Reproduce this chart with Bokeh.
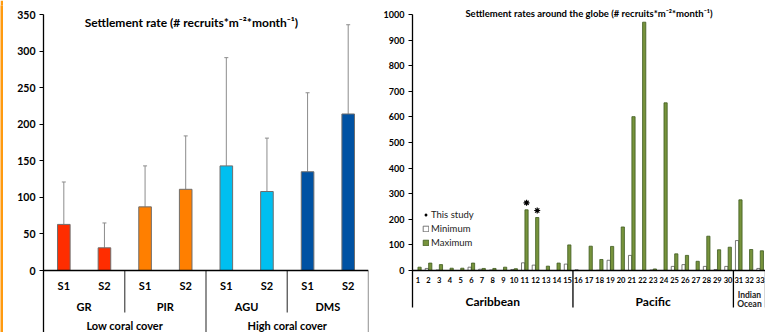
import numpy as np
from bokeh.plotting import figure
from bokeh.models import (Range1d, FixedTicker, ColumnDataSource, Whisker, TeeHead,
                          Label, Legend, LegendItem, Span)
from bokeh.layouts import row
from bokeh.transform import dodge
from bokeh.embed import file_html
from bokeh.resources import INLINE
from bokeh.core.properties import value

FONT = "Lato"

# ---------------- left panel data ----------------
sites = ["GR", "GR", "PIR", "PIR", "AGU", "AGU", "DMS", "DMS"]
surveys = ["S1", "S2", "S1", "S2", "S1", "S2", "S1", "S2"]
coverage = ["Low coral cover"] * 4 + ["High coral cover"] * 4
settlement_mean = [63, 31, 87, 111, 143, 108, 135, 214]
settlement_upper = [121, 65, 143, 184, 291, 181, 243, 336]
left_yticks = [0, 50, 100, 150, 200, 250, 300, 350]
site_colors = {"GR": "#FF2D00", "PIR": "#FF7F00", "AGU": "#00BFF0", "DMS": "#0052A3"}

# ---------------- right panel data ----------------
study_ids = list(range(1, 34))
minimum = [0, 8, 2, 0, 0, 13, 5, 2, 0, 4, 30, 21, 0, 0, 25,
           3, 0, 1, 40, 0, 59, 0, 2, 0, 16, 23, 0, 16, 4, 16,
           117, 0, 8]
maximum = [13, 29, 23, 9, 9, 29, 8, 8, 13, 7, 237, 207, 17, 29, 100,
           0, 95, 43, 94, 170, 601, 970, 6, 655, 65, 59, 36, 134, 81, 91,
           276, 82, 77]
regions = ["Caribbean"] * 15 + ["Pacific"] * 15 + ["Indian Ocean"] * 3
this_study = [11, 12]
right_yticks = [0, 100, 200, 300, 400, 500, 600, 700, 800, 900, 1000]


def style_yaxis(ay, ticks, size):
    ay.ticker = FixedTicker(ticks=ticks)
    ay.major_tick_out = 4
    ay.major_tick_in = 0
    ay.minor_tick_out = 0
    ay.minor_tick_in = 0
    ay.major_label_standoff = 4
    ay.major_label_text_font = FONT
    ay.major_label_text_font_style = "bold"
    ay.major_label_text_font_size = size
    ay.major_label_text_color = "black"
    ay.axis_line_color = "black"
    ay.axis_line_width = 1.3
    ay.major_tick_line_color = "black"


H = 332
TOP_PAD = 9   # pixels of frame above the highest tick

# =============== decorative strip at the far left ===============
strip = figure(width=3, height=H, output_backend="svg", toolbar_location=None, title=None,
               x_axis_location=None, y_axis_location=None, min_border=0,
               background_fill_color="#FF9A10", border_fill_color="#FF9A10")
strip.outline_line_color = None
strip.grid.visible = False

# =============== LEFT FIGURE ===============
L_YMAX = 350
L_UPP = 350 / 256.0          # data units per pixel
L_TOP = L_YMAX + TOP_PAD * L_UPP
L_YMIN = -62 * L_UPP

xl = np.arange(len(sites))
src_l = ColumnDataSource(dict(x=xl, mean=settlement_mean, upper=settlement_upper,
                              color=[site_colors[s] for s in sites], lab=surveys))

p1 = figure(width=377, height=H, output_backend="svg", toolbar_location=None, title=None,
            x_range=Range1d(-0.5, len(sites) - 0.5), y_range=Range1d(L_YMIN, L_TOP),
            min_border_left=40, min_border_right=12, min_border_top=5, min_border_bottom=0)
p1.xaxis.visible = False
p1.outline_line_color = None
p1.xgrid.visible = False
p1.ygrid.visible = False
style_yaxis(p1.yaxis[0], left_yticks, "10.5px")
p1.yaxis[0].bounds = (L_YMIN, L_YMAX)

p1.add_layout(Span(location=0, dimension="width", line_color="black", line_width=1.3))

p1.vbar(x="x", top="mean", width=0.31, fill_color="color", line_color="#6E6E6E",
        line_width=1, source=src_l)
p1.add_layout(Whisker(base="x", lower="mean", upper="upper", source=src_l,
                      line_color="#8C8C8C", line_width=1, lower_head=None,
                      upper_head=TeeHead(size=4, line_color="#8C8C8C", line_width=1)))

# S1 / S2 labels
p1.text(x="x", y=-15 * L_UPP, text="lab", source=src_l,
        text_align="center", text_baseline="middle", text_font=value(FONT),
        text_font_style="bold", text_font_size="11px", text_color="black")

# separators below axis
sep_x, sep_y = [], []
for i in range(len(sites)):
    last = i == len(sites) - 1
    if last or sites[i] != sites[i + 1]:
        sep_x.append(i + 0.5)
        long_line = last or coverage[i] != coverage[i + 1]
        sep_y.append(L_YMIN if long_line else -42 * L_UPP)
p1.segment(x0=sep_x, y0=[0] * len(sep_x), x1=sep_x, y1=sep_y,
           line_color="#555555", line_width=1.3)

site_names = list(dict.fromkeys(sites))
site_centers = [float(np.mean([x for x, s in zip(xl, sites) if s == n])) for n in site_names]
p1.text(x=site_centers, y=[-36 * L_UPP] * len(site_names), text=site_names,
        text_align="center", text_baseline="middle", text_font=value(FONT),
        text_font_style="bold", text_font_size="11px", text_color="black")

cov_names = list(dict.fromkeys(coverage))
cov_centers = [float(np.mean([x for x, c in zip(xl, coverage) if c == n])) for n in cov_names]
p1.text(x=cov_centers, y=[-55 * L_UPP] * len(cov_names), text=cov_names,
        text_align="center", text_baseline="middle", text_font=value(FONT),
        text_font_style="bold", text_font_size="11px", text_color="black")

p1.add_layout(Label(x=3.14, y=L_YMAX - 8 * L_UPP,
                    text="Settlement rate (# recruits*m\u207b\u00b2*month\u207b\u00b9)",
                    text_align="center", text_baseline="middle", text_font=FONT,
                    text_font_style="bold", text_font_size="12px", text_color="black"))

# =============== RIGHT FIGURE ===============
R_YMAX = 1000
R_UPP = 1000 / 256.0
R_TOP = R_YMAX + TOP_PAD * R_UPP
R_YMIN = -62 * R_UPP
R_LINE_BOTTOM = -37 * R_UPP

src_r = ColumnDataSource(dict(id=study_ids, mn=minimum, mx=maximum,
                              lab=[str(i) for i in study_ids]))
p2 = figure(width=385, height=H, output_backend="svg", toolbar_location=None, title=None,
            x_range=Range1d(0.5, len(study_ids) + 0.5), y_range=Range1d(R_YMIN, R_TOP),
            min_border_left=32, min_border_right=0, min_border_top=5, min_border_bottom=0)
p2.xaxis.visible = False
p2.outline_line_color = None
p2.xgrid.visible = False
p2.ygrid.visible = False
style_yaxis(p2.yaxis[0], right_yticks, "9px")
p2.yaxis[0].bounds = (R_LINE_BOTTOM, R_YMAX)

p2.add_layout(Span(location=0, dimension="width", line_color="black", line_width=1.3))

r_min = p2.vbar(x=dodge("id", -0.16), top="mn", width=0.3, fill_color="white",
                line_color="#555555", line_width=0.8, source=src_r)
r_max = p2.vbar(x=dodge("id", 0.16), top="mx", width=0.3, fill_color="#77933C",
                line_color="#3E5A1E", line_width=0.8, source=src_r)

star_src = ColumnDataSource(dict(id=this_study,
                                 y=[maximum[study_ids.index(s)] + 7 * R_UPP for s in this_study]))
r_star = p2.scatter(x=dodge("id", 0.16), y="y", marker="asterisk", size=6,
                    line_color="black", line_width=1.2, source=star_src)

# study number labels
p2.text(x="id", y=-9 * R_UPP, text="lab", source=src_r,
        text_align="center", text_baseline="middle", text_font=value(FONT),
        text_font_style="bold", text_font_size="7.5px", text_color="black")

rsep = []
for i in range(len(regions)):
    if i == len(regions) - 1 or regions[i] != regions[i + 1]:
        rsep.append(study_ids[i] + 0.5)
p2.segment(x0=rsep, y0=[0] * len(rsep), x1=rsep, y1=[R_LINE_BOTTOM] * len(rsep),
           line_color="black", line_width=1.3)

reg_names = list(dict.fromkeys(regions))
reg_centers = [float(np.mean([i for i, r in zip(study_ids, regions) if r == n])) for n in reg_names]
big = [n for n in reg_names if " " not in n]
p2.text(x=[reg_centers[reg_names.index(n)] for n in big], y=[-31 * R_UPP] * len(big), text=big,
        text_align="center", text_baseline="middle", text_font=value(FONT),
        text_font_style="bold", text_font_size="12px", text_color="black")

# two-word region names on two lines
sx, sy, st = [], [], []
for n in reg_names:
    if " " in n:
        words = n.split(" ")
        for k, w in enumerate(words):
            sx.append(reg_centers[reg_names.index(n)])
            sy.append((-24 - 9.5 * k) * R_UPP)
            st.append(w)
p2.text(x=sx, y=sy, text=st, text_align="center", text_baseline="middle",
        text_font=value(FONT), text_font_style="bold", text_font_size="8.5px",
        text_color="#222222")

p2.add_layout(Label(x=(len(study_ids) + 1) / 2, y=R_YMAX + 1 * R_UPP,
                    text="Settlement rates around the globe (# recruits*m\u207b\u00b2*month\u207b\u00b9)",
                    text_align="center", text_baseline="middle", text_font=FONT,
                    text_font_style="bold", text_font_size="9.5px", text_color="black"))

legend = Legend(items=[LegendItem(label="This study", renderers=[r_star]),
                       LegendItem(label="Minimum", renderers=[r_min]),
                       LegendItem(label="Maximum", renderers=[r_max])],
                location=(10, 84), glyph_width=7, glyph_height=7, label_height=10,
                label_standoff=2, spacing=3, padding=0, margin=0,
                border_line_color=None, background_fill_alpha=0,
                label_text_font=FONT, label_text_font_size="9.5px", label_text_color="#222222")
p2.add_layout(legend)

p = row(strip, p1, p2)
open("out.html", "w").write(file_html(p, INLINE))
